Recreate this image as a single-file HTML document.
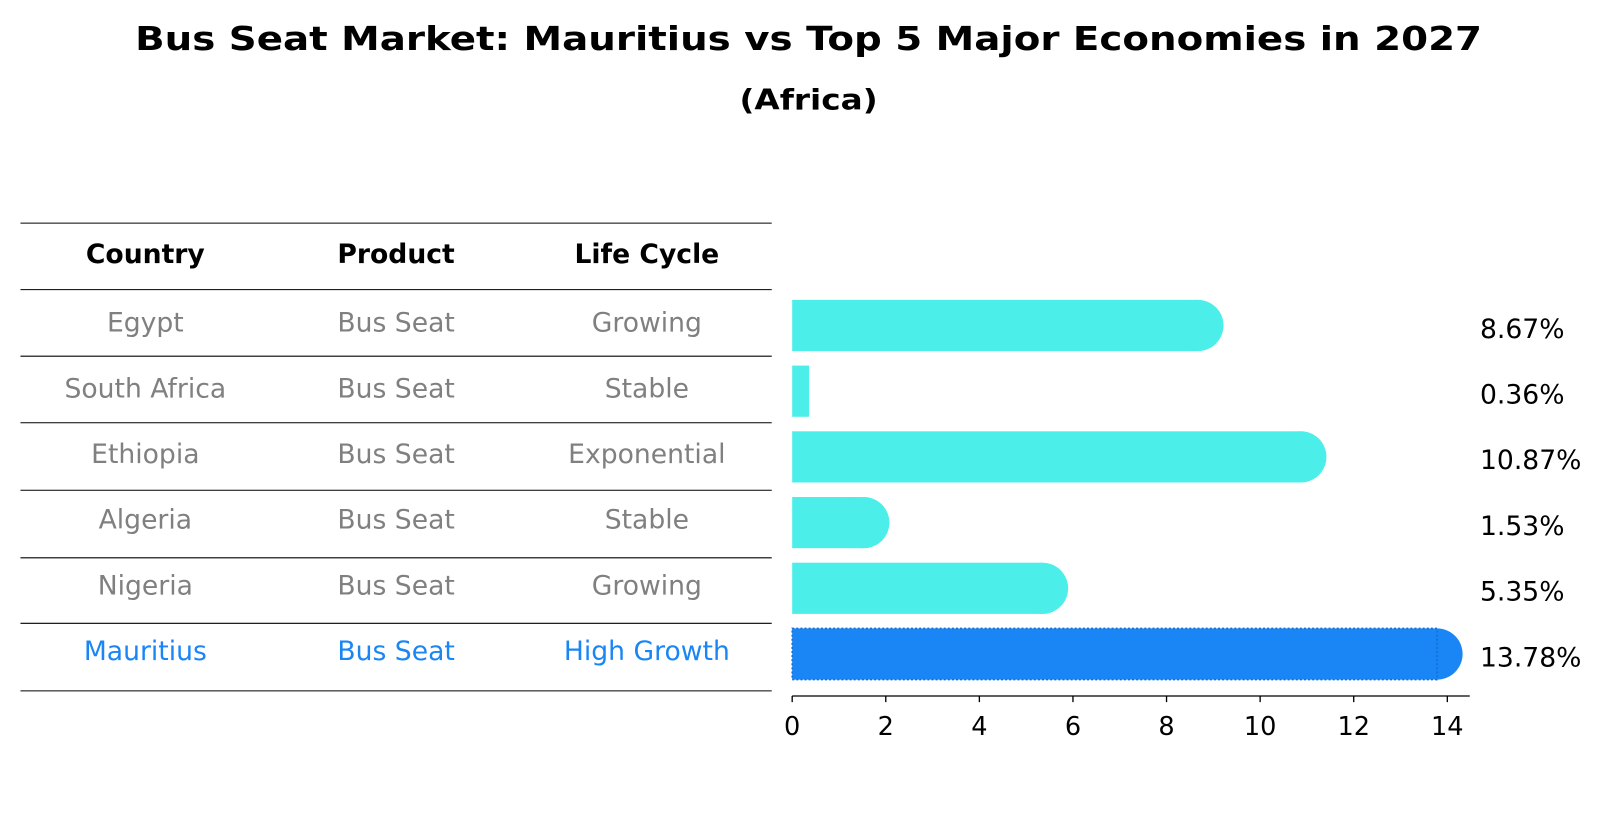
<!DOCTYPE html>
<html><head><meta charset="utf-8"><style>
body{margin:0;background:#fff;font-family:"Liberation Sans","DejaVu Sans",sans-serif;}
svg text{font-family:"DejaVu Sans","Liberation Sans",sans-serif;}
</style></head><body>
<svg id="c" width="1604" height="823" viewBox="0 0 1604 823">
<g transform="scale(1.0235)">
<text x="790" y="49" text-anchor="middle" font-size="32" font-weight="bold" textLength="1316" lengthAdjust="spacingAndGlyphs">Bus Seat Market: Mauritius vs Top 5 Major Economies in 2027</text>
<text x="790" y="107" text-anchor="middle" font-size="28" font-weight="bold" textLength="135" lengthAdjust="spacingAndGlyphs">(Africa)</text>
<g id="table"></g>
<g id="bars"></g>
<g id="axis"></g>
</g>
</svg>
<script>
const countries=["Egypt","South Africa","Ethiopia","Algeria","Nigeria","Mauritius"];
const products=["Bus Seat","Bus Seat","Bus Seat","Bus Seat","Bus Seat","Bus Seat"];
const lifeCycles=["Growing","Stable","Exponential","Stable","Growing","High Growth"];
const values=[8.67,0.36,10.87,1.53,5.35,13.78];
const valueLabels=["8.67%","0.36%","10.87%","1.53%","5.35%","13.78%"];
const ticks=[0,2,4,6,8,10,12,14];
const NS="http://www.w3.org/2000/svg";
function mk(t,a,p){const e=document.createElementNS(NS,t);for(const k in a)e.setAttribute(k,a[k]);p.appendChild(e);return e;}
const x0=774,pxPer=45.72;
const xs=v=>x0+v*pxPer;
const rowY=i=>318+i*64.2;
const tbl=document.getElementById('table'),bars=document.getElementById('bars'),ax=document.getElementById('axis');
const lineYs=[218,283,348,413,479,545,609,675];
lineYs.forEach(y=>{const l=mk('line',{x1:20,x2:754,y1:y,y2:y,stroke:'#000','stroke-width':1},tbl);
});
const colX=[142,387,632];
["Country","Product","Life Cycle"].forEach((h,j)=>{const t=mk('text',{x:colX[j],y:257,'text-anchor':'middle','font-size':26,'font-weight':'bold'},tbl);t.textContent=h;
});
countries.forEach((c,i)=>{
 const last=i===countries.length-1;const col=last?'#1a86f5':'#808080';
 [c,products[i],lifeCycles[i]].forEach((s,j)=>{const t=mk('text',{x:colX[j],y:rowY(i)+6,'text-anchor':'middle','font-size':26,fill:col},tbl);t.textContent=s;
 });
 const h=50,y=rowY(i)-h/2,w=xs(values[i])-x0;const fill=last?'#1a86f5':'#4beee9';
 const g=mk('g',{},bars);
 mk('rect',{x:x0,y:y,width:w,height:h,fill:fill},g);
 if(values[i]>1)mk('circle',{cx:x0+w,cy:rowY(i),r:h/2,fill:fill},g);
 if(last)mk('rect',{x:x0,y:y,width:w,height:h,fill:'none',stroke:'#0f6fd8','stroke-dasharray':'2,2','stroke-width':1.5},g);
 const t=mk('text',{x:1446,y:rowY(i)+12,'font-size':26},bars);t.textContent=valueLabels[i];
 
});
const al=mk('line',{x1:x0,x2:1436,y1:680,y2:680,stroke:'#000','stroke-width':1.3},ax);

ticks.forEach(v=>{mk('line',{x1:xs(v),x2:xs(v),y1:680,y2:686,stroke:'#000','stroke-width':1.3},ax);
 const t=mk('text',{x:xs(v),y:718,'text-anchor':'middle','font-size':25},ax);t.textContent=v;
 });
</script>
</body></html>
